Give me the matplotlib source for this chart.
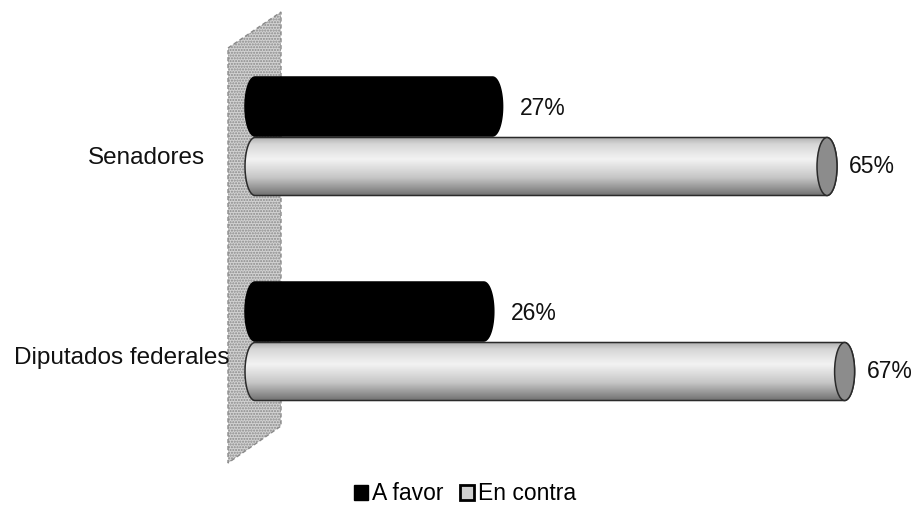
import numpy as np
import matplotlib
matplotlib.use("Agg")
import matplotlib.pyplot as plt
from matplotlib.path import Path
from matplotlib.patches import PathPatch, Ellipse, Polygon, Patch
from matplotlib.colors import LinearSegmentedColormap

plt.rcParams['font.family'] = ['Liberation Sans Narrow', 'Liberation Sans', 'DejaVu Sans']
plt.rcParams['hatch.color'] = "#a4a4a4"

categories = ["Senadores", "Diputados federales"]
series_names = ["A favor", "En contra"]
a_favor = [27, 26]
en_contra = [65, 67]

W, H, DPI = 912, 508, 100
PX_PER_UNIT = 8.8           # horizontal pixels per percentage point
X0_PX = 255                 # pixel column of the 0 % baseline

fig = plt.figure(figsize=(W / DPI, H / DPI), dpi=DPI)
ax = fig.add_axes([0, 0, 1, 1])
ax.set_xlim(-X0_PX / PX_PER_UNIT, (W - X0_PX) / PX_PER_UNIT)
ax.set_ylim(H, 0)
ax.axis("off")

def px_x(px):
    return (px - X0_PX) / PX_PER_UNIT

# back wall (3-D side plane)
wall = Polygon([(px_x(228), 48), (px_x(281), 12), (px_x(281), 426), (px_x(228), 463)],
               closed=True, facecolor="#d2d2d2", edgecolor="#8a8a8a",
               hatch="......", linestyle=(0, (3, 2)), linewidth=1.0, zorder=1)
ax.add_patch(wall)

cap_a = 10 / PX_PER_UNIT    # half width of the elliptical ends

def cylinder_path(v, yc, h):
    t = np.linspace(-np.pi / 2, np.pi / 2, 40)
    right = np.column_stack([v + cap_a * np.cos(t), yc + (h / 2) * np.sin(t)])
    left = np.column_stack([0 - cap_a * np.cos(t[::-1]), yc + (h / 2) * np.sin(t[::-1])])
    verts = np.vstack([right, left, right[:1]])
    codes = [Path.MOVETO] + [Path.LINETO] * (len(verts) - 2) + [Path.CLOSEPOLY]
    return Path(verts, codes)

light_cmap = LinearSegmentedColormap.from_list(
    "tube", [(0, "#b0b0b0"), (0.12, "#d6d6d6"), (0.38, "#f3f3f3"),
             (0.7, "#c6c6c6"), (1.0, "#747474")])
dark_cmap = LinearSegmentedColormap.from_list("tubek", ["#000000", "#000000"])

def draw_cylinder(v, yc, h, cmap, cap_color, edge, show_cap):
    path = cylinder_path(v, yc, h)
    grad = np.linspace(0, 1, 200).reshape(-1, 1)
    im = ax.imshow(grad, cmap=cmap, aspect="auto",
                   extent=(-cap_a, v + cap_a, yc + h / 2, yc - h / 2),
                   interpolation="bilinear", zorder=3)
    patch = PathPatch(path, facecolor="none", edgecolor=edge, linewidth=1.1, zorder=4)
    ax.add_patch(patch)
    im.set_clip_path(patch)
    if show_cap:
        ax.add_patch(Ellipse((v, yc), 2 * cap_a, h, facecolor=cap_color,
                             edgecolor=edge, linewidth=1.1, zorder=5))

group_split = [136, 341]
bar_h = 59
VAL_FS = 16.5

for i, cat in enumerate(categories):
    y_fav = group_split[i] - bar_h / 2
    y_con = group_split[i] + bar_h / 2 + 1
    draw_cylinder(en_contra[i], y_con, bar_h - 1, light_cmap, "#8c8c8c", "#2a2a2a", True)
    draw_cylinder(a_favor[i], y_fav, bar_h, dark_cmap, "#000000", "#000000", False)
    ax.text(a_favor[i] + cap_a + 17 / PX_PER_UNIT, y_fav + 2, f"{a_favor[i]}%",
            fontsize=VAL_FS, va="center", ha="left", color="#111111", zorder=6)
    ax.text(en_contra[i] + cap_a + 12 / PX_PER_UNIT, y_con, f"{en_contra[i]}%",
            fontsize=VAL_FS, va="center", ha="left", color="#111111", zorder=6)

# category labels
ax.text(px_x(205), 158, categories[0], fontsize=17.5, ha="right", va="center", color="#111111")
ax.text(px_x(230), 358, categories[1], fontsize=17.5, ha="right", va="center", color="#111111")

handles = [Patch(facecolor="#000000", edgecolor="#000000", label=series_names[0]),
           Patch(facecolor="#cfcfcf", edgecolor="#000000", linewidth=2, label=series_names[1])]
fig.legend(handles=handles, loc="center", bbox_to_anchor=(0.51, 1 - 494 / H),
           ncol=2, frameon=False, fontsize=16.5, handlelength=0.6, handleheight=0.6,
           handletextpad=0.2, columnspacing=0.7)

fig.savefig("out.png", dpi=DPI)
